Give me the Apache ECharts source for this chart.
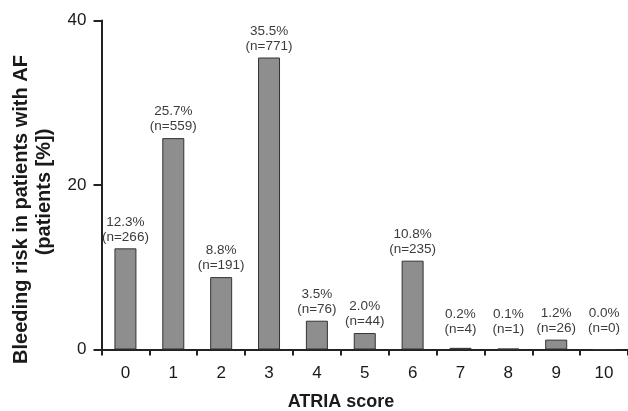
<!DOCTYPE html>
<html>
<head>
<meta charset="utf-8">
<script src="https://cdn.jsdelivr.net/npm/echarts@6/dist/echarts.min.js"></script>
<style>
  html, body { margin: 0; padding: 0; background: #fff; }
  #chart { width: 628px; height: 411px; }
</style>
</head>
<body>
<div id="chart"></div>
<script>
// ATRIA score categories and share of AF patients per score
const scores = ['0', '1', '2', '3', '4', '5', '6', '7', '8', '9', '10'];
const percents = [12.3, 25.7, 8.8, 35.5, 3.5, 2.0, 10.8, 0.2, 0.1, 1.2, 0.0];
const counts = [266, 559, 191, 771, 76, 44, 235, 4, 1, 26, 0];
const yTicks = [0, 20, 40];

// extra lift (px) for labels over the very short bars so they sit on one line
const labelDistance = [4, 4, 4, 4, 4, 4, 4, 11, 12, 4, 13];

const FONT = '"Liberation Sans", Arial, Helvetica, sans-serif';

const chart = echarts.init(document.getElementById('chart'), null, { renderer: 'canvas' });

const seriesData = percents.map((v, i) => ({
  value: v,
  label: { distance: labelDistance[i] }
}));

chart.setOption({
  animation: false,
  backgroundColor: '#ffffff',
  grid: { left: 101.5, top: 20.5, width: 528, height: 329, containLabel: false },
  xAxis: {
    type: 'category',
    data: scores,
    boundaryGap: true,
    axisLine: { show: true, lineStyle: { color: '#222', width: 2 } },
    axisTick: { show: true, alignWithLabel: false, length: 6, lineStyle: { color: '#222', width: 2 } },
    axisLabel: { color: '#1a1a1a', fontSize: 17, fontFamily: FONT, margin: 15 },
    splitLine: { show: false }
  },
  yAxis: {
    type: 'value',
    min: yTicks[0],
    max: yTicks[yTicks.length - 1],
    interval: yTicks[1] - yTicks[0],
    axisLine: { show: true, lineStyle: { color: '#222', width: 2 } },
    axisTick: { show: true, length: 8, lineStyle: { color: '#222', width: 2 } },
    axisLabel: { color: '#1a1a1a', fontSize: 17, fontFamily: FONT, margin: 15 },
    splitLine: { show: false }
  },
  graphic: [
    {
      type: 'text',
      x: 341, y: 402,
      style: {
        text: 'ATRIA score',
        font: 'bold 18px ' + FONT,
        fill: '#1a1a1a',
        align: 'center',
        verticalAlign: 'middle'
      }
    },
    {
      type: 'text',
      x: 21, y: 209.5,
      rotation: Math.PI / 2,
      style: {
        text: 'Bleeding risk in patients with AF',
        font: 'bold 20px ' + FONT,
        fill: '#1a1a1a',
        align: 'center',
        verticalAlign: 'middle'
      }
    },
    {
      type: 'text',
      x: 44, y: 192,
      rotation: Math.PI / 2,
      style: {
        text: '(patients [%])',
        font: 'bold 20px ' + FONT,
        fill: '#1a1a1a',
        align: 'center',
        verticalAlign: 'middle'
      }
    }
  ],
  series: [{
    type: 'bar',
    data: seriesData,
    barWidth: 22,
    itemStyle: { color: '#8e8e8e', borderColor: '#333', borderWidth: 1 },
    label: {
      show: true,
      position: 'top',
      color: '#3c3c3c',
      fontSize: 13.5,
      lineHeight: 15,
      fontFamily: FONT,
      formatter: (p) => p.value.toFixed(1) + '%\n(n=' + counts[p.dataIndex] + ')'
    }
  }]
});
</script>
</body>
</html>
